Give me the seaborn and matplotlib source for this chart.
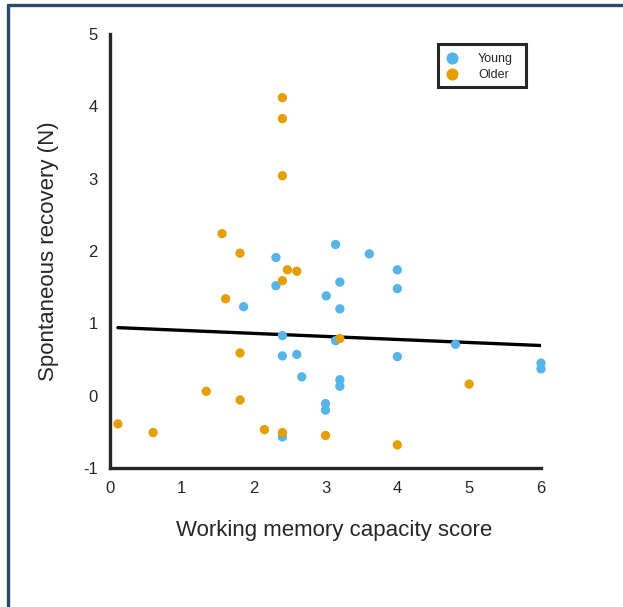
import numpy as np
import pandas as pd
import matplotlib
matplotlib.use("Agg")
import matplotlib.pyplot as plt
from matplotlib.lines import Line2D
from matplotlib.patches import Rectangle
import seaborn as sns

# Working memory capacity score (x) and spontaneous recovery (y) per participant
young_wm = [3.14, 3.61, 2.31, 4.00, 3.20, 2.31, 4.00, 3.01, 1.86, 3.20,
            2.40, 3.14, 4.81, 2.40, 2.60, 4.00, 6.00, 6.00, 2.67, 3.20,
            3.20, 3.00, 3.00, 2.40]
young_sr = [2.09, 1.96, 1.91, 1.74, 1.57, 1.52, 1.48, 1.38, 1.23, 1.20,
            0.83, 0.76, 0.71, 0.55, 0.57, 0.54, 0.45, 0.37, 0.26, 0.22,
            0.13, -0.11, -0.20, -0.57]
older_wm = [2.40, 2.40, 2.40, 1.56, 1.81, 2.47, 2.60, 2.40, 1.61, 3.20,
            1.81, 5.00, 1.34, 1.81, 0.11, 0.60, 2.15, 2.40, 3.00, 4.00]
older_sr = [4.12, 3.83, 3.04, 2.24, 1.97, 1.74, 1.72, 1.59, 1.34, 0.79,
            0.59, 0.16, 0.06, -0.06, -0.39, -0.51, -0.47, -0.51, -0.55, -0.68]

groups = ["Young", "Older"]
group_colors = ["#56B4E9", "#E69F00"]

# Linear fit across all participants
fit_intercept = 0.945
fit_slope = -0.042

x_ticks = [0, 1, 2, 3, 4, 5, 6]
y_ticks = [-1, 0, 1, 2, 3, 4, 5]

df = pd.DataFrame({
    "wm": young_wm + older_wm,
    "sr": young_sr + older_sr,
    "group": [groups[0]] * len(young_wm) + [groups[1]] * len(older_wm),
})

sns.set_theme(style="white")
plt.rcParams["font.family"] = ["Liberation Sans", "DejaVu Sans"]

ink = "#262626"

fig = plt.figure(figsize=(6.23, 6.07), dpi=100)
ax = fig.add_axes([110 / 623, 1 - 468 / 607, 431 / 623, 434 / 607])

sns.scatterplot(data=df, x="wm", y="sr", hue="group", hue_order=groups,
                palette=group_colors, s=45, linewidth=0, ax=ax, zorder=3,
                clip_on=False)

xs = np.array([df["wm"].min(), df["wm"].max()])
ax.plot(xs, fit_intercept + fit_slope * xs, color="black", lw=2.4, zorder=2)

ax.set_xlim(0, 6)
ax.set_ylim(-1, 5)
ax.set_xticks(x_ticks)
ax.set_yticks(y_ticks)
ax.set_xticklabels([str(t) for t in x_ticks])
ax.set_yticklabels([str(t) for t in y_ticks])

for side in ["top", "right"]:
    ax.spines[side].set_visible(False)
for side in ["left", "bottom"]:
    ax.spines[side].set_color(ink)
    ax.spines[side].set_linewidth(2.4)

ax.tick_params(axis="both", direction="in", length=5, width=2.4,
               color=ink, labelsize=12, labelcolor=ink)
ax.tick_params(axis="y", pad=9)
ax.tick_params(axis="x", pad=9.5)

ax.set_xlabel("Working memory capacity score", fontsize=16, color=ink)
ax.xaxis.set_label_coords(0.52, -0.12)
ax.set_ylabel("Spontaneous recovery (N)", fontsize=16, color=ink,
              labelpad=17)

# Legend entries without the default frame; a box is drawn around them
leg = ax.legend(loc="upper left", bbox_to_anchor=(0.761, 0.972),
                borderaxespad=0, frameon=False, fontsize=9, markerscale=1.3,
                handlelength=1.15, handletextpad=1.5, labelspacing=0.33,
                borderpad=0.55)
for t in leg.get_texts():
    t.set_color(ink)
ax.add_patch(Rectangle((0.761, 0.878), 0.204, 0.099, transform=ax.transAxes,
                       fill=False, edgecolor=ink, lw=2.2, zorder=5,
                       clip_on=False))

# Panel border along the left and top edges
border = "#2b4a6b"
fig.add_artist(Line2D([8 / 623, 8 / 623], [0, 1 - 5 / 607],
                      transform=fig.transFigure, color=border, lw=2.4))
fig.add_artist(Line2D([8 / 623, 1], [1 - 5 / 607, 1 - 5 / 607],
                      transform=fig.transFigure, color=border, lw=2.4))

fig.savefig("out.png", dpi=100)
